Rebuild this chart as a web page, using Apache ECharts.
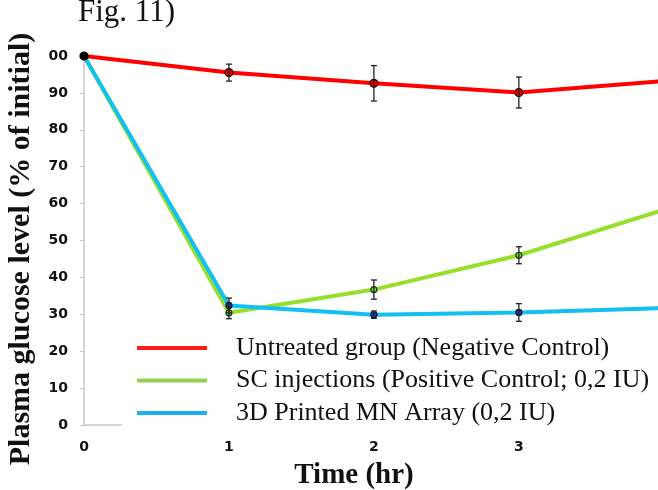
<!DOCTYPE html>
<html><head><meta charset="utf-8">
<script src="https://cdn.jsdelivr.net/npm/echarts@6/dist/echarts.min.js"></script>
<style>html,body{margin:0;padding:0;background:#fff}#c{width:658px;height:490px}</style>
</head><body><div id="c"></div>
<script>
const times = [0, 1, 2, 3, 4];
const xTickLabels = ['0', '1', '2', '3', ''];
const yTickLabels = ['0', '10', '20', '30', '40', '50', '60', '70', '80', '90', '00'];
const seriesNames = ['Untreated group (Negative Control)', 'SC injections (Positive Control; 0,2 IU)', '3D Printed MN Array (0,2 IU)'];
const untreated = [100, 95.5, 92.6, 90.1, 93.2];
const untreatedErr = [0, 2.3, 4.8, 4.2, null];
const scInj = [100, 30.4, 36.7, 46.0, 58.3];
const scInjErr = [0, 1.6, 2.6, 2.3, null];
const mnArray = [100, 32.4, 29.9, 30.5, 31.7];
const mnArrayErr = [0, 2.0, 1.0, 2.4, null];

const lineColors = ['#ff0000', '#96e02c', '#12c0f2'];
const legendColors = ['#ff1a1a', '#8fd14f', '#1ab0ea'];
const markerFill = ['#e00000', '#8fd14f', '#1a3c8a'];
const markerBorder = ['#400000', '#0a3a0a', '#001040'];
const allVals = [untreated, scInj, mnArray];
const allErr = [untreatedErr, scInjErr, mnArrayErr];

const chart = echarts.init(document.getElementById('c'), null, {renderer: 'canvas'});
const series = [];
allVals.forEach((vals, k) => {
  series.push({
    name: seriesNames[k], type: 'line', z: 3, clip: false,
    data: vals.map((v, i) => {
      const p = {value: [times[i], v]};
      if (i === 0) p.itemStyle = {color: '#000', borderColor: '#000'};
      if (i === times.length - 1) p.symbol = 'none';
      return p;
    }),
    symbol: 'circle', symbolSize: k === 0 ? 8 : 6, showSymbol: true,
    lineStyle: {color: lineColors[k], width: 4},
    itemStyle: {color: markerFill[k], borderColor: markerBorder[k], borderWidth: 1.2},
    emphasis: {disabled: true}, animation: false
  });
});
allVals.forEach((vals, k) => {
  const data = [];
  vals.forEach((v, i) => { if (allErr[k][i]) data.push([times[i], v - allErr[k][i], v + allErr[k][i]]); });
  series.push({
    type: 'custom', z: 4, animation: false, silent: true, clip: false,
    data: data,
    renderItem: function (params, api) {
      const lo = api.coord([api.value(0), api.value(1)]);
      const hi = api.coord([api.value(0), api.value(2)]);
      const w = 3;
      return {type: 'group', children: [
        {type: 'line', shape: {x1: lo[0], y1: lo[1], x2: hi[0], y2: hi[1]}, style: {stroke: '#222', lineWidth: 1.3}},
        {type: 'line', shape: {x1: lo[0] - w, y1: lo[1], x2: lo[0] + w, y2: lo[1]}, style: {stroke: '#222', lineWidth: 1.3}},
        {type: 'line', shape: {x1: hi[0] - w, y1: hi[1], x2: hi[0] + w, y2: hi[1]}, style: {stroke: '#222', lineWidth: 1.3}}
      ]};
    }
  });
});

chart.setOption({
  animation: false,
  grid: {left: 84, top: 56, right: 0, height: 369, containLabel: false},
  xAxis: {
    type: 'value', min: 0, max: 3.96, interval: 1,
    axisLine: {show: true, lineStyle: {color: '#c8c8c8', width: 1.5}},
    axisTick: {show: false},
    splitLine: {show: false},
    axisLabel: {margin: 15, fontFamily: 'DejaVu Sans', fontWeight: 'bold', fontSize: 14, color: '#111',
      showMaxLabel: false,
      formatter: v => { const i = times.indexOf(v); return i >= 0 ? xTickLabels[i] : ''; }}
  },
  yAxis: {
    type: 'value', min: 0, max: 100, interval: 10,
    axisLine: {show: true, lineStyle: {color: '#c8c8c8', width: 1.5}},
    axisTick: {show: true, length: 4, lineStyle: {color: '#c8c8c8'}},
    splitLine: {show: false},
    axisLabel: {margin: 16, fontFamily: 'DejaVu Sans', fontWeight: 'bold', fontSize: 14, color: '#111',
      formatter: v => yTickLabels[Math.round(v / 10)]}
  },
  legend: {
    orient: 'vertical', left: 122, top: 323, z: 10,
    padding: [10, 120, 10, 15], backgroundColor: '#fff',
    itemWidth: 70, itemHeight: 4, itemGap: 2.5, icon: 'rect',
    textStyle: {fontFamily: 'Liberation Serif', fontSize: 26, color: '#111', lineHeight: 30, padding: [0, 0, 0, 24]},
    data: seriesNames.map((n, k) => ({name: n, itemStyle: {color: legendColors[k], borderWidth: 0}})),
    selectedMode: false
  },
  graphic: [
    {type: 'text', left: 78, top: -3, z: 20, style: {text: 'Fig. 11)', font: '31px "Liberation Serif"', fill: '#111'}},
    {type: 'text', x: 21, y: 249, rotation: Math.PI / 2, z: 20,
      style: {text: 'Plasma glucose level (% of initial)', font: 'bold 30px "Liberation Serif"', fill: '#111', align: 'center', verticalAlign: 'middle'}},
    {type: 'text', x: 354, y: 476, z: 20,
      style: {text: 'Time (hr)', font: 'bold 29px "Liberation Serif"', fill: '#111', align: 'center', verticalAlign: 'middle'}}
  ],
  series: series
});
</script></body></html>
